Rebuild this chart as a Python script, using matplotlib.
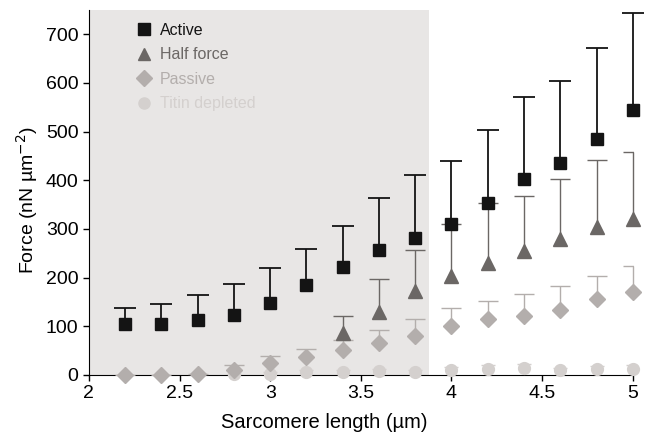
import numpy as np
import matplotlib.pyplot as plt
from matplotlib.lines import Line2D

plt.rcParams['font.family'] = ['Liberation Sans', 'DejaVu Sans']

# Sarcomere lengths (um)
sl_all = [2.2, 2.4, 2.6, 2.8, 3.0, 3.2, 3.4, 3.6, 3.8, 4.0, 4.2, 4.4, 4.6, 4.8, 5.0]

# Active force: mean and top of error bar
active = [104, 104, 112, 123, 147, 184, 221, 257, 281, 310, 353, 403, 436, 484, 545]
active_top = [138, 145, 164, 187, 219, 259, 306, 364, 411, 439, 503, 571, 604, 672, 744]

# Half force (from 3.4 um on)
sl_half = [3.4, 3.6, 3.8, 4.0, 4.2, 4.4, 4.6, 4.8, 5.0]
half = [86, 130, 173, 204, 230, 254, 280, 305, 320]
half_top = [121, 198, 256, 310, 353, 367, 402, 442, 458]

# Passive force
passive = [0, 0, 1, 11, 25, 37, 51, 66, 80, 101, 115, 121, 134, 156, 171]
passive_top = [0, 0, 1, 20, 38, 53, 72, 92, 115, 137, 153, 166, 182, 204, 224]

# Titin depleted (from 2.8 um on)
sl_titin = [2.8, 3.0, 3.2, 3.4, 3.6, 3.8, 4.0, 4.2, 4.4, 4.6, 4.8, 5.0]
titin = [1, 3, 7, 7, 8, 7, 10, 12, 14, 10, 12, 13]
titin_top = [3, 6, 10, 10, 12, 10, 16, 20, 22, 15, 18, 20]

c_active = '#141414'
c_half = '#6b6765'
c_passive = '#b3aeac'
c_titin = '#d4d0ce'

fig = plt.figure(figsize=(6.49, 4.34), dpi=100)
ax = fig.add_axes([0.137, 0.136, 0.838, 0.841])

# shaded region
ax.axvspan(2, 3.875, color='#e8e6e5', zorder=0, lw=0)


def plot_series(x, y, top, color, marker, ms, z, lw=1.0, cap=7, clip_caps=True):
    y = np.array(y, dtype=float)
    up = np.array(top, dtype=float) - y
    err = [np.zeros_like(up), up]
    line, caps, bars = ax.errorbar(x, y, yerr=err, fmt=marker, color=color,
                                   ms=ms, mec=color, elinewidth=lw,
                                   capsize=cap, capthick=lw, zorder=z)
    line.set_clip_on(False)
    caps[0].set_visible(False)  # only the upper cap
    caps[1].set_clip_on(clip_caps)
    for b in bars:
        b.set_clip_on(False)


plot_series(sl_titin, titin, titin_top, c_titin, 'o', 8.5, 3, cap=5)
plot_series(sl_all, passive, passive_top, c_passive, 'D', 8.5, 4)
plot_series(sl_half, half, half_top, c_half, '^', 9.5, 5)
plot_series(sl_all, active, active_top, c_active, 's', 8.5, 6, lw=1.3, cap=8,
            clip_caps=False)

ax.set_xlim(2, 5)
ax.set_ylim(0, 750)
ax.set_xticks([2, 2.5, 3, 3.5, 4, 4.5, 5])
ax.set_xticklabels(['2', '2.5', '3', '3.5', '4', '4.5', '5'])
ax.set_yticks([0, 100, 200, 300, 400, 500, 600, 700])
ax.spines['top'].set_visible(False)
ax.spines['right'].set_visible(False)
ax.tick_params(direction='out', length=4, labelsize=14, width=1)
ax.set_xlabel('Sarcomere length (µm)', fontsize=14.5)
ax.xaxis.set_label_coords(0.5, 0.005, transform=fig.transFigure)
ax.xaxis.label.set_va('bottom')
ax.set_ylabel('Force (nN µm$^{-2}$)', fontsize=14)
ax.yaxis.set_label_coords(0.042, 0.54, transform=fig.transFigure)
ax.yaxis.label.set_va('center')

handles = [
    Line2D([], [], marker='s', ls='', color=c_active, ms=8),
    Line2D([], [], marker='^', ls='', color=c_half, ms=9),
    Line2D([], [], marker='D', ls='', color=c_passive, ms=8),
    Line2D([], [], marker='o', ls='', color=c_titin, ms=8),
]
labels = ['Active', 'Half force', 'Passive', 'Titin depleted']
leg = ax.legend(handles, labels, loc='upper left', bbox_to_anchor=(0.06, 1.005),
                frameon=False, fontsize=11.5, handlelength=1.0,
                handletextpad=0.5, labelspacing=0.6)
for txt, col in zip(leg.get_texts(), [c_active, c_half, c_passive, c_titin]):
    txt.set_color(col)

fig.savefig('out.png', dpi=100)
